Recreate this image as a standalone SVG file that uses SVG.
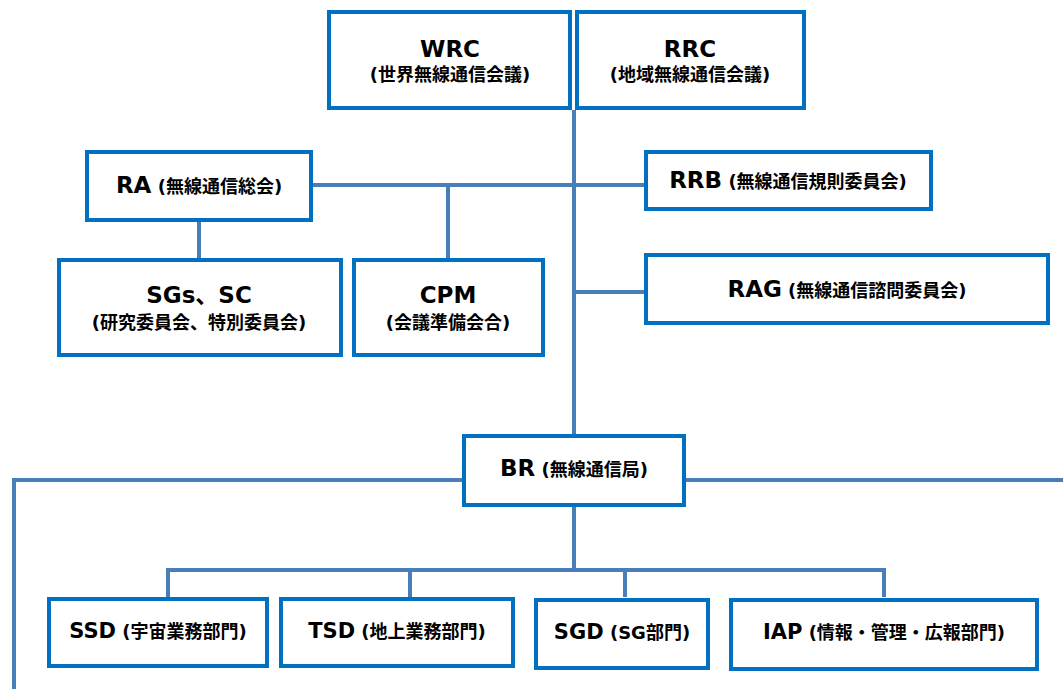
<svg xmlns="http://www.w3.org/2000/svg" width="1063" height="689" viewBox="0 0 1063 689">
<style>
.box{fill:#fff;stroke:#0070c0;stroke-width:4}
.con{fill:none;stroke:#4a7ebb;stroke-width:4}
text{font-family:"DejaVu Sans","Noto Sans CJK JP",sans-serif;font-weight:bold;fill:#000;text-anchor:middle}
.big{font-size:23px}
.mid{font-size:21px}
.sm{font-size:18px}
</style>
<rect width="1063" height="689" fill="#fff"/>
<g id="connectors">
<path class="con" d="M574 110V436"/>
<path class="con" d="M313 185H645"/>
<path class="con" d="M448 185V258"/>
<path class="con" d="M199 222V258"/>
<path class="con" d="M574 292H645"/>
<path class="con" d="M14 689V480H462"/>
<path class="con" d="M686 480H1063"/>
<path class="con" d="M574 507V570"/>
<path class="con" d="M168 597V570H884V597"/>
<path class="con" d="M410 570V597"/>
<path class="con" d="M625 570V597"/>
</g>
<g id="WRC"><rect class="box" x="329" y="12" width="241" height="96"/><text x="450" y="57" class="big">WRC</text><text x="450" y="81" class="sm">(世界無線通信会議)</text></g>
<g id="RRC"><rect class="box" x="577" y="12" width="227" height="96"/><text x="690" y="57" class="big">RRC</text><text x="690" y="81" class="sm">(地域無線通信会議)</text></g>
<g id="RA"><rect class="box" x="87" y="152" width="224" height="68"/><text x="199" y="193"><tspan class="big">RA</tspan><tspan class="sm"> (無線通信総会)</tspan></text></g>
<g id="RRB"><rect class="box" x="646" y="152" width="285" height="57"/><text x="788" y="188"><tspan class="big">RRB</tspan><tspan class="sm"> (無線通信規則委員会)</tspan></text></g>
<g id="SGs"><rect class="box" x="59" y="260" width="282" height="95"/><text x="199" y="303" class="big">SGs、SC</text><text x="199" y="329" class="sm">(研究委員会、特別委員会)</text></g>
<g id="CPM"><rect class="box" x="354" y="260" width="189" height="95"/><text x="448" y="303" class="big">CPM</text><text x="448" y="329" class="sm">(会議準備会合)</text></g>
<g id="RAG"><rect class="box" x="646" y="255" width="402" height="68"/><text x="847" y="297"><tspan class="big">RAG</tspan><tspan class="sm"> (無線通信諮問委員会)</tspan></text></g>
<g id="BR"><rect class="box" x="464" y="436" width="220" height="69"/><text x="574" y="476"><tspan class="big">BR</tspan><tspan class="sm"> (無線通信局)</tspan></text></g>
<g id="SSD"><rect class="box" x="49" y="599" width="218" height="67"/><text x="158" y="638"><tspan class="mid">SSD</tspan><tspan class="sm"> (宇宙業務部門)</tspan></text></g>
<g id="TSD"><rect class="box" x="281" y="599" width="232" height="67"/><text x="397" y="638"><tspan class="mid">TSD</tspan><tspan class="sm"> (地上業務部門)</tspan></text></g>
<g id="SGD"><rect class="box" x="536" y="600" width="172" height="68"/><text x="622" y="639"><tspan class="mid">SGD</tspan><tspan class="sm"> (SG部門)</tspan></text></g>
<g id="IAP"><rect class="box" x="731" y="600" width="306" height="69"/><text x="884" y="639"><tspan class="mid">IAP</tspan><tspan class="sm"> (情報・管理・広報部門)</tspan></text></g>
</svg>
